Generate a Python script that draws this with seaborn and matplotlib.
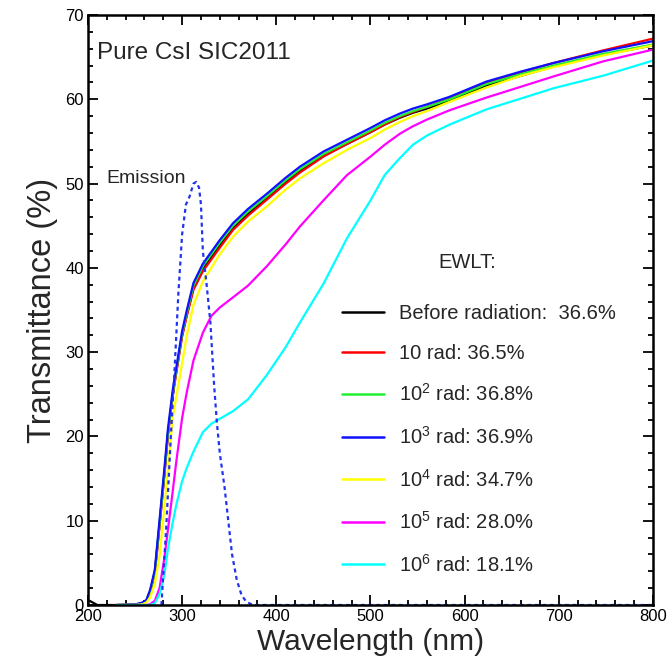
import matplotlib
matplotlib.use("Agg")
import matplotlib.pyplot as plt
from matplotlib.lines import Line2D
from matplotlib.ticker import MultipleLocator
import matplotlib.transforms as mtransforms
import pandas as pd
import seaborn as sns

# Wavelength grid (nm) shared by the transmittance curves
wavelength = [230, 250, 258, 262, 266, 271, 276, 281, 285, 290, 294, 300, 305, 312,
              322, 331, 340, 354, 370, 390, 410, 425, 450, 475, 500, 515, 531, 545,
              560, 584, 623, 660, 694, 747, 800]

# Transmittance (%) for each dose
t_before = [0, 0.05, 0.25, 0.5, 1.6, 3.9, 9.6, 15.4, 20.4, 25.0, 27.9, 32.0, 34.5, 37.6,
            39.9, 41.3, 42.7, 44.7, 46.4, 48.3, 50.2, 51.5, 53.3, 54.7, 56.1, 57.0, 57.8,
            58.4, 58.9, 59.8, 61.6, 62.8, 63.9, 65.3, 66.4]
t_10 = [0, 0.05, 0.2, 0.45, 1.5, 3.7, 9.3, 15.2, 20.2, 24.8, 27.7, 31.9, 34.3, 37.4,
        39.6, 41.0, 42.4, 44.5, 46.2, 48.1, 50.0, 51.3, 53.2, 54.7, 56.1, 57.0, 57.9,
        58.5, 59.1, 60.1, 61.9, 63.2, 64.3, 65.8, 67.2]
t_1e2 = [0, 0.05, 0.25, 0.5, 1.6, 3.9, 9.6, 15.5, 20.5, 25.1, 28.0, 32.2, 34.7, 37.9,
         40.2, 41.6, 43.0, 45.0, 46.7, 48.5, 50.4, 51.7, 53.5, 54.9, 56.3, 57.2, 58.0,
         58.6, 59.1, 60.0, 61.8, 63.0, 64.0, 65.4, 66.5]
t_1e3 = [0, 0.05, 0.3, 0.6, 1.8, 4.2, 10.1, 16.0, 21.0, 25.5, 28.3, 32.5, 35.0, 38.2,
         40.5, 41.9, 43.3, 45.3, 47.0, 48.8, 50.7, 52.0, 53.8, 55.2, 56.6, 57.5, 58.3,
         58.9, 59.4, 60.3, 62.1, 63.3, 64.3, 65.7, 66.9]
t_1e4 = [0, 0, 0.1, 0.3, 0.9, 2.5, 5.8, 11.4, 16.3, 22.3, 24.8, 28.7, 32.0, 35.6,
         38.4, 40.0, 41.6, 43.7, 45.5, 47.3, 49.3, 50.6, 52.4, 54.0, 55.4, 56.4, 57.3,
         58.0, 58.6, 59.7, 61.4, 62.8, 63.8, 65.2, 66.4]
t_1e5 = [0, 0, 0, 0, 0.1, 0.5, 2.0, 5.5, 9.0, 13.5, 17.2, 22.2, 25.3, 29.0,
         32.3, 34.3, 35.3, 36.5, 37.9, 40.2, 42.8, 44.9, 48.0, 51.0, 53.2, 54.6, 55.9,
         56.8, 57.6, 58.7, 60.2, 61.5, 62.7, 64.5, 65.9]
t_1e6 = [0, 0, 0, 0, 0, 0.2, 1.3, 3.5, 6.7, 9.8, 12.0, 14.7, 16.3, 18.2,
         20.5, 21.5, 22.1, 23.0, 24.4, 27.3, 30.6, 33.5, 38.1, 43.5, 48.0, 51.0, 53.0,
         54.6, 55.7, 57.0, 58.8, 60.1, 61.3, 62.8, 64.6]

# The unirradiated scan starts earlier, at 200 nm
wavelength_before_start = [200, 205, 210, 220]
t_before_start = [0.6, 0.3, 0.0, 0.0]

# CsI emission spectrum (arbitrary units scaled to the axis)
emission_wl = [278, 283, 288, 292, 296, 300, 304, 308, 312, 315, 318, 320, 322, 326,
               330, 334, 337, 340, 345, 349, 353, 358, 363, 368, 375, 800]
emission_val = [0, 9, 20, 28, 37, 44, 47.5, 48.5, 50, 50.2, 49.5, 47.5, 42, 38,
                33.5, 26, 21.5, 18, 14, 10, 6, 3, 1.2, 0.4, 0, 0]

labels = ["Before radiation:  36.6%", "10 rad: 36.5%", "10$^{2}$ rad: 36.8%",
          "10$^{3}$ rad: 36.9%", "10$^{4}$ rad: 34.7%", "10$^{5}$ rad: 28.0%",
          "10$^{6}$ rad: 18.1%"]
colors = ["#000000", "#ff0000", "#22ee33", "#1010ff", "#ffff00", "#ff00ff", "#00ffff"]

sns.set_style("ticks")
plt.rcParams["font.family"] = ["Liberation Sans", "DejaVu Sans"]
plt.rcParams["mathtext.default"] = "regular"

fig = plt.figure(figsize=(6.68, 6.68), dpi=100)
ax = fig.add_axes([0.1317, 0.0943, 0.8458, 0.8832])

series = [
    (wavelength_before_start + wavelength, t_before_start + t_before),
    (wavelength, t_10),
    (wavelength, t_1e2),
    (wavelength, t_1e3),
    (wavelength, t_1e4),
    (wavelength, t_1e5),
    (wavelength, t_1e6),
]
for (xs, ys), c in zip(series, colors):
    df = pd.DataFrame({"wl": xs, "T": ys})
    sns.lineplot(data=df, x="wl", y="T", color=c, lw=1.6, ax=ax,
                 estimator=None, sort=False, legend=False)

em = pd.DataFrame({"wl": emission_wl, "T": emission_val})
sns.lineplot(data=em, x="wl", y="T", color="#2233ee", lw=1.6, ax=ax,
             estimator=None, sort=False, legend=False, linestyle=(0, (1.8, 1.6)))

ax.set_xlim(200, 800)
ax.set_ylim(0, 70)
ax.xaxis.set_major_locator(MultipleLocator(100))
ax.xaxis.set_minor_locator(MultipleLocator(20))
ax.yaxis.set_major_locator(MultipleLocator(10))
ax.yaxis.set_minor_locator(MultipleLocator(2))
ax.tick_params(which="both", direction="in", top=True, right=True, width=1.3,
               labelsize=12, pad=3, colors="black")
ax.tick_params(which="major", length=7)
ax.tick_params(which="minor", length=3.5)
for sp in ax.spines.values():
    sp.set_linewidth(1.8)
    sp.set_color("black")

# nudge the "0" label up so it clears the "200" label below it
fig.canvas.draw()
zero_lbl = ax.get_yticklabels()[0]
zero_lbl.set_transform(zero_lbl.get_transform() +
                       mtransforms.ScaledTranslation(0, 3 / 100, fig.dpi_scale_trans))

ax.set_xlabel("Wavelength (nm)", fontsize=21.5, labelpad=3)
ax.set_ylabel("Transmittance (%)", fontsize=23.5, labelpad=5)

ax.text(0.016, 0.955, "Pure CsI SIC2011", transform=ax.transAxes, fontsize=17.5,
        ha="left", va="top")
ax.text(262, 49.6, "Emission", fontsize=14, ha="center", va="bottom")

ax.text(0.6708, 0.5797, "EWLT:", transform=ax.transAxes, fontsize=14.5,
        ha="center", va="center")
handles = [Line2D([], [], color=c, lw=1.8) for c in colors]
leg = ax.legend(handles, labels, loc="upper left",
                bbox_to_anchor=(0.4354, 0.5237), frameon=False, fontsize=14.5,
                handlelength=2.1, handletextpad=0.75,
                labelspacing=1.025, borderaxespad=0)

fig.savefig("out.png", dpi=100)
